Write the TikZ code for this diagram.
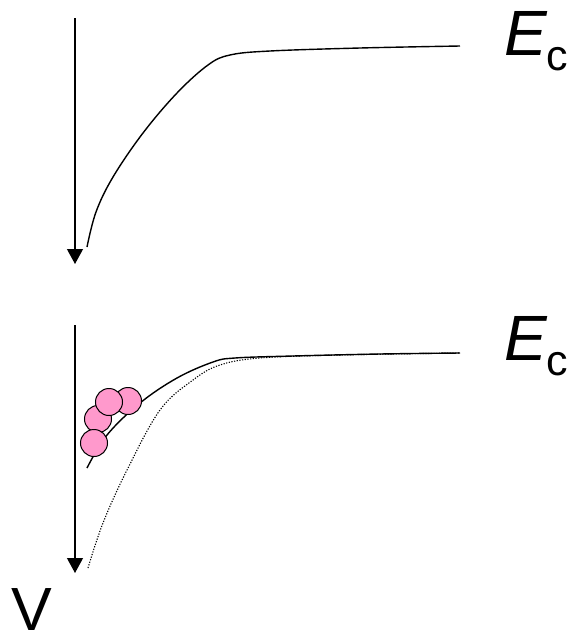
\documentclass[tikz,border=0pt]{standalone}
\usepackage{fontspec}
\setmainfont{Liberation Sans}
\usetikzlibrary{arrows.meta}
\definecolor{ballpink}{HTML}{FF99CC}
\tikzset{
  axisarrow/.style={line width=1.2pt,-{Triangle[length=15pt,width=16pt]}},
  bandline/.style={line width=1.4pt},
  oldband/.style={line width=1.1pt,dash pattern=on 1.2pt off 1.5pt},
  ball/.style={circle,draw=black,line width=1pt,fill=ballpink,minimum size=27pt,inner sep=0pt},
  elabel/.style={anchor=base west,inner sep=0pt,font=\fontsize{64}{64}\selectfont\itshape},
  clabel/.style={anchor=base west,inner sep=0pt,font=\fontsize{43}{43}\selectfont},
}
\begin{document}
\begin{tikzpicture}[x=1pt,y=-1pt]
\useasboundingbox (0,0) rectangle (573,638);
% top panel
\coordinate (a1top) at (75,18);
\coordinate (a1bot) at (75,264);
\draw[axisarrow] (a1top) -- (a1bot);
\draw[bandline] plot[smooth,tension=0.6] coordinates {(87,247) (96,212) (113,177) (143,133) (177,93) (208,65) (230,55) (270,51) (360,48) (460,46)};
\node[elabel] (E1) at (504,55) {E};
\node[clabel] (c1) at (546,70) {c};
% bottom panel
\coordinate (a2top) at (75,325);
\coordinate (a2bot) at (75,573);
\draw[axisarrow] (a2top) -- (a2bot);
\draw[oldband] plot[smooth,tension=0.6] coordinates {(88,568) (103,523) (127,470) (160,410) (193,380) (220,365) (260,358) (340,355) (460,353)};
\draw[bandline] plot[smooth,tension=0.6] coordinates {(87,468) (107,435) (140,403) (177,378) (213,362) (235,358) (293,356) (380,354) (460,353)};
\node[ball] (b4) at (128,401) {};
\node[ball] (b2) at (98,419) {};
\node[ball] (b3) at (109,402) {};
\node[ball] (b1) at (94,443) {};
\node[elabel] (E2) at (504,360) {E};
\node[clabel] (c2) at (546,375) {c};
% V label
\node[anchor=base west,inner sep=0pt,font=\fontsize{61}{61}\selectfont] (V) at (11,630) {V};
\end{tikzpicture}
\end{document}
